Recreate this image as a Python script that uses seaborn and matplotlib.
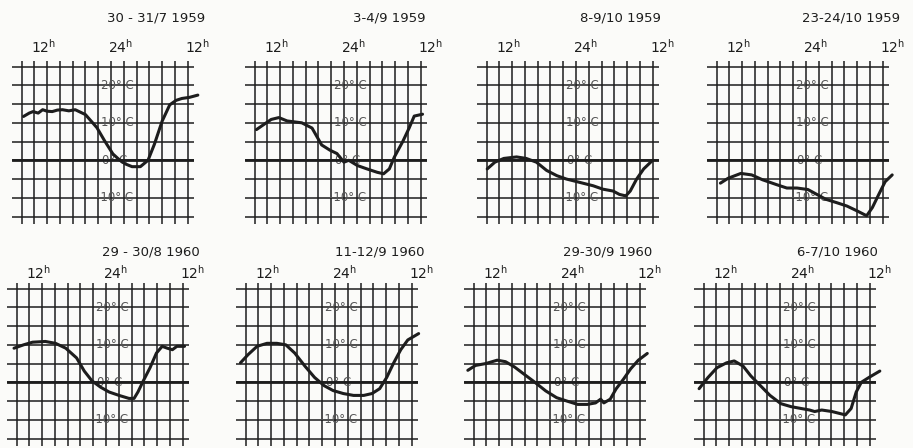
import matplotlib
matplotlib.use("Agg")
import matplotlib.pyplot as plt
import matplotlib.transforms as mtransforms
import pandas as pd
import seaborn as sns

# thermograph traces, hours counted from noon of the first day (12 -> 24 -> 36)
titles = ["30 - 31/7 1959", "3-4/9 1959", "8-9/10 1959", "23-24/10 1959",
          "29 - 30/8 1960", "11-12/9 1960", "29-30/9 1960", "6-7/10 1960"]

hours_1 = [10.3, 11.2, 11.8, 12.6, 13.3, 14.0, 14.8, 15.6, 16.4, 17.4, 18.4, 20.0, 21.8, 23.0,
           24.3, 25.4, 26.3, 27.3, 28.6, 29.8, 30.8, 32.0, 33.2, 34.2, 35.1, 36.3, 37.6]
temps_1 = [11.7, 12.6, 13.0, 12.6, 13.5, 13.1, 13.0, 13.4, 13.5, 13.2, 13.5, 12.2, 8.7, 5.2,
           1.7, 0.0, -1.0, -1.7, -1.7, 0.0, 4.3, 10.4, 14.8, 16.0, 16.5, 16.8, 17.4]

hours_2 = [10.3, 11.4, 12.6, 13.8, 15.1, 17.4, 19.0, 20.5, 21.8, 22.9, 24.0, 24.75, 26.1, 27.6,
           29.2, 30.2, 31.1, 31.9, 33.2, 34.2, 35.0, 36.3]
temps_2 = [8.2, 9.5, 10.9, 11.4, 10.5, 10.0, 8.6, 4.1, 2.7, 1.8, -0.5, 0.0, -1.4, -2.3,
           -3.2, -3.6, -2.3, 0.9, 5.0, 8.6, 11.8, 12.3]

hours_3 = [10.1, 11.3, 12.7, 14.7, 16.2, 17.8, 19.4, 21.0, 22.5, 24.6, 26.7, 28.2, 29.8, 30.8,
           31.8, 32.5, 33.5, 34.6, 36.0]
temps_3 = [-2.3, -0.5, 0.5, 0.9, 0.5, -0.5, -2.7, -4.1, -5.0, -5.9, -6.8, -7.7, -8.2, -9.1,
           -9.5, -8.2, -5.0, -2.3, 0.0]

hours_4 = [10.6, 11.8, 13.8, 15.5, 17.2, 19.4, 21.0, 22.6, 24.3, 25.7, 27.1, 28.8, 30.4, 32.0,
           33.5, 34.4, 35.4, 36.4, 37.5]
temps_4 = [-6.1, -4.8, -3.5, -3.9, -5.2, -6.5, -7.4, -7.4, -7.8, -9.1, -10.4, -11.3, -12.2, -13.5,
           -14.8, -12.6, -9.1, -5.7, -3.9]

hours_5 = [9.6, 11.1, 12.5, 14.5, 16.1, 17.7, 19.4, 20.6, 21.8, 23.15, 24.5, 26.05, 27.6, 28.4,
           29.0, 29.85, 30.9, 31.9, 32.8, 33.6, 34.4, 35.1, 36.3]
temps_5 = [9.1, 10.0, 10.7, 10.9, 10.4, 9.1, 6.5, 3.0, 0.4, -1.3, -2.6, -3.5, -4.3, -4.3,
           -2.6, 0.4, 3.9, 7.8, 9.6, 9.1, 8.7, 9.6, 9.6]

hours_6 = [9.2, 10.4, 11.8, 13.35, 14.9, 16.3, 17.7, 19.3, 20.8, 22.3, 23.7, 25.3, 26.9, 28.5,
           29.8, 31.0, 32.1, 33.2, 34.3, 35.4, 37.1]
temps_6 = [5.2, 7.4, 9.6, 10.4, 10.4, 10.0, 7.8, 4.3, 1.3, -0.9, -2.2, -3.0, -3.5, -3.5,
           -3.0, -1.7, 1.3, 5.2, 8.7, 11.3, 13.0]

hours_7 = [9.1, 10.3, 11.9, 13.7, 15.0, 16.4, 17.8, 19.6, 21.3, 23.0, 24.6, 26.3, 27.8, 29.1,
           29.9, 30.4, 31.4, 32.3, 33.5, 34.6, 35.8, 37.2]
temps_7 = [3.2, 4.5, 5.0, 5.9, 5.5, 4.1, 2.3, 0.0, -2.3, -4.1, -5.0, -5.9, -5.9, -5.5,
           -4.5, -5.5, -4.5, -1.8, 0.9, 3.6, 5.9, 7.7]

hours_8 = [9.3, 10.7, 12.1, 13.6, 14.8, 16.2, 17.4, 18.9, 20.4, 22.1, 23.7, 25.3, 26.6, 27.4,
           28.5, 30.1, 32.2, 33.1, 33.9, 34.7, 35.9, 37.6]
temps_8 = [-1.7, 1.3, 3.9, 5.2, 5.7, 4.3, 1.7, -0.9, -3.5, -5.7, -6.5, -7.0, -7.4, -7.8,
           -7.4, -7.8, -8.7, -7.0, -2.6, 0.0, 1.3, 3.0]

hour_ticks = [12, 24, 36]
hour_labels = ["12", "24", "12"]
temp_marks = [20, 10, 0, -10]
temp_labels = ["20° C", "10° C", "0° C", "-10° C"]

hours = [hours_1, hours_2, hours_3, hours_4, hours_5, hours_6, hours_7, hours_8]
temps = [temps_1, temps_2, temps_3, temps_4, temps_5, temps_6, temps_7, temps_8]

INK = "#1d1d1d"
PAPER = "#fbfbf9"
W, H = 913, 448

sns.set_theme(style="white")
plt.rcParams["font.family"] = ["DejaVu Sans"]

fig = plt.figure(figsize=(W / 100, H / 100), dpi=100, facecolor=PAPER)

# panel placement in pixels: left edge of each grid, top of each row
lefts = [12, 245, 477, 707, 7, 236, 464, 694]
tops = [61, 61, 61, 61, 283, 283, 283, 283]
pw, ph = 182, 163

for i in range(8):
    ax = fig.add_axes([lefts[i] / W, 1 - (tops[i] + ph) / H, pw / W, ph / H])
    ax.set_facecolor(PAPER)
    ax.set_xlim(8.5, 37)
    ax.set_ylim(-17, 26.5)
    ax.set_xticks(range(10, 37, 2))
    ax.set_yticks(range(-15, 26, 5))
    ax.grid(True, color=INK, linewidth=1.1)
    ax.tick_params(length=0, labelbottom=False, labelleft=False)
    for s in ax.spines.values():
        s.set_visible(False)
    ax.axhline(0, color=INK, linewidth=2.0, zorder=2)

    df = pd.DataFrame({"hour": hours[i], "temp": temps[i]})
    sns.lineplot(data=df, x="hour", y="temp", ax=ax, color=INK, linewidth=2.2,
                 sort=False, estimator=None, clip_on=False, zorder=3)
    ax.lines[-1].set_solid_joinstyle("round")
    ax.lines[-1].set_solid_capstyle("round")
    ax.set_xlabel("")
    ax.set_ylabel("")

    for t, lab in zip(temp_marks, temp_labels):
        cx = 25.0 if t > 0 else 24.5
        ax.text(cx, t, lab, ha="center", va="center", fontsize=8.5, color="#555555", zorder=1)

    trans = mtransforms.blended_transform_factory(ax.transData, ax.transAxes)
    dy = 1.085 if i < 4 else 1.06
    for h, lab in zip(hour_ticks, hour_labels):
        ax.text(h + 1.5, dy, lab + r"$^{\mathrm{h}}$", transform=trans, ha="center",
                va="center", fontsize=10, color=INK)

    ty = 1.265 if i < 4 else 1.19
    ax.text(0.79, ty, titles[i], transform=ax.transAxes, ha="center", va="center",
            fontsize=9.5, color=INK)

fig.savefig("out.png", dpi=100, facecolor=PAPER)
